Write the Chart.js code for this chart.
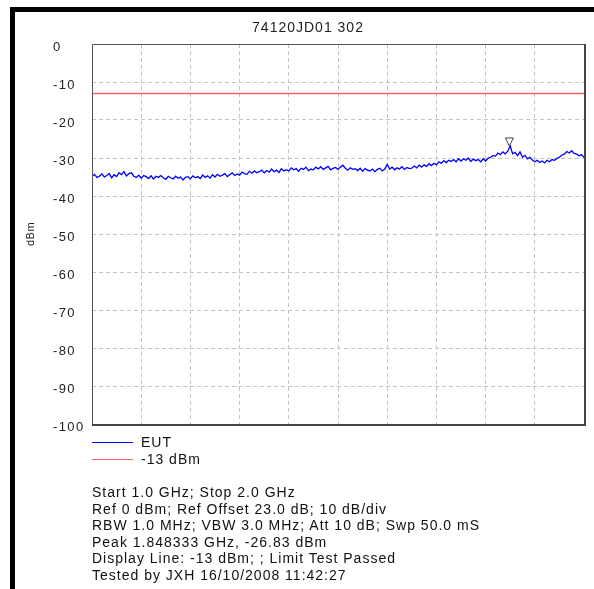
<!DOCTYPE html>
<html><head><meta charset="utf-8">
<script src="https://cdn.jsdelivr.net/npm/chart.js@4/dist/chart.umd.min.js"></script>
<style>
html,body{margin:0;padding:0;background:#fff;}
#wrap{position:relative;width:594px;height:589px;overflow:hidden;background:#fff;}
#frame{position:absolute;left:10px;top:7px;right:-10px;bottom:-10px;border-top:5px solid #000;border-left:5px solid #000;}
#cv{position:absolute;left:0;top:0;}
.txt{position:absolute;font-family:'Liberation Sans',Arial,sans-serif;font-size:14px;letter-spacing:1px;color:#111;white-space:nowrap;}
#legend{left:92px;top:434px;}
#legend .row{position:relative;height:17px;line-height:17px;padding-left:49px;}
#legend .sw{position:absolute;left:0;top:8px;width:41px;height:1px;}
#footer{left:92px;top:484px;line-height:16.6px;}
</style></head><body>
<div id="wrap"><div id="frame"></div><canvas id="cv" width="594" height="589"></canvas>
<div id="legend" class="txt"></div><div id="footer" class="txt"></div></div>
<script>
const chartTitle = '74120JD01 302';
const yAxisTitle = 'dBm';
const yTickValues = [0, -10, -20, -30, -40, -50, -60, -70, -80, -90, -100];
const xGridFreqs = [1.0, 1.1, 1.2, 1.3, 1.4, 1.5, 1.6, 1.7, 1.8, 1.9, 2.0];
const startGHz = 1.0;
const stepGHz = 0.005;
const seriesLabels = ['EUT', '-13 dBm'];
const eutLevels = [
 -34.9,-34.3,-35.1,-34.8,-34.2,-35.0,-34.6,-34.1,-35.2,-34.4,
 -34.9,-33.9,-34.4,-33.6,-34.7,-34.1,-33.9,-34.8,-35.1,-34.5,
 -35.3,-34.6,-34.9,-35.4,-34.7,-35.5,-34.8,-35.1,-34.6,-35.2,
 -35.6,-34.8,-35.2,-35.5,-34.8,-35.3,-35.0,-35.8,-35.1,-34.9,
 -35.5,-34.7,-35.2,-34.9,-35.4,-34.5,-35.1,-34.7,-35.3,-34.4,
 -35.0,-34.3,-34.8,-34.5,-34.1,-34.9,-34.4,-33.9,-34.6,-34.2,
 -34.5,-33.7,-34.1,-34.3,-33.5,-34.0,-33.4,-33.9,-33.6,-33.2,
 -33.9,-33.3,-33.7,-32.9,-33.6,-33.2,-33.8,-32.8,-33.4,-33.1,
 -33.4,-32.6,-33.1,-32.8,-33.5,-32.7,-33.0,-32.4,-33.3,-32.9,
 -33.1,-32.4,-32.9,-32.3,-33.0,-32.6,-32.2,-33.1,-32.7,-32.5,
 -33.0,-32.4,-31.9,-32.7,-33.2,-32.6,-33.0,-32.8,-33.3,-32.7,
 -33.5,-32.8,-33.2,-33.4,-32.9,-33.6,-33.0,-32.7,-33.4,-32.9,
 -31.7,-32.9,-32.4,-33.1,-32.6,-32.9,-32.3,-33.0,-32.5,-32.8,
 -32.7,-32.1,-32.6,-31.9,-32.4,-31.8,-32.2,-31.5,-32.0,-31.4,
 -31.8,-31.0,-31.4,-30.7,-31.2,-30.6,-30.9,-30.4,-31.0,-30.2,
 -30.8,-30.2,-30.6,-30.0,-30.9,-30.3,-30.7,-30.4,-31.0,-30.2,
 -30.8,-30.1,-29.8,-29.4,-29.5,-28.7,-29.1,-28.4,-28.9,-28.2,
 -26.8,-28.9,-28.5,-29.4,-28.4,-29.8,-29.3,-30.2,-29.8,-30.5,
 -31.0,-30.6,-31.2,-30.8,-31.3,-30.6,-31.0,-30.4,-30.6,-30.1,
 -29.8,-29.2,-29.0,-28.3,-28.7,-28.1,-28.8,-29.0,-29.4,-29.1,
 -29.9
];
const limitFreqs = [1.0, 2.0];
const limitLevels = [-13, -13];
const peakFreq = 1.848333;
const peakLevel = -26.83;
const footerLines = [
 'Start 1.0 GHz; Stop 2.0 GHz',
 'Ref 0 dBm; Ref Offset 23.0 dB; 10 dB/div',
 'RBW 1.0 MHz; VBW 3.0 MHz; Att 10 dB; Swp 50.0 mS',
 'Peak 1.848333 GHz, -26.83  dBm',
 'Display Line: -13 dBm; ; Limit Test Passed',
 'Tested by JXH 16/10/2008 11:42:27'
];

const FONT = "'Liberation Sans', Arial, sans-serif";
const colors = ['#0000ff', '#f06464'];

const decorPlugin = {
  id: 'decor',
  beforeDraw(chart) { chart.ctx.letterSpacing = '1.4px'; },
  afterDatasetsDraw(chart) {
    const {ctx, scales: {x, y}} = chart;
    const px = x.getPixelForValue(peakFreq), py = y.getPixelForValue(peakLevel);
    ctx.save();
    ctx.beginPath();
    ctx.moveTo(px, py);
    ctx.lineTo(px - 4, py - 8);
    ctx.lineTo(px + 4, py - 8);
    ctx.closePath();
    ctx.fillStyle = '#fff';
    ctx.fill();
    ctx.strokeStyle = '#444';
    ctx.lineWidth = 1;
    ctx.stroke();
    ctx.restore();
  },
  afterDraw(chart) {
    const {ctx, chartArea: a} = chart;
    ctx.save();
    ctx.letterSpacing = '0px';
    ctx.strokeStyle = '#555';
    ctx.lineWidth = 1;
    ctx.beginPath();
    ctx.moveTo(a.left + 0.5, a.bottom); ctx.lineTo(a.left + 0.5, a.top + 0.5); ctx.lineTo(a.right, a.top + 0.5);
    ctx.stroke();
    ctx.lineWidth = 2;
    ctx.strokeStyle = '#444';
    ctx.beginPath();
    ctx.moveTo(a.right + 1, a.top); ctx.lineTo(a.right + 1, a.bottom + 1); ctx.lineTo(a.left, a.bottom + 1);
    ctx.stroke();
    ctx.fillStyle = '#222';
    ctx.letterSpacing = '1px';
    ctx.font = '14px ' + FONT;
    ctx.textAlign = 'center';
    ctx.textBaseline = 'middle';
    ctx.fillText(chartTitle, 308, 28.5);
    ctx.letterSpacing = '0.5px';
    ctx.font = '11px ' + FONT;
    ctx.translate(31, (a.top + a.bottom) / 2);
    ctx.rotate(-Math.PI / 2);
    ctx.fillText(yAxisTitle, 0, 0);
    ctx.restore();
    ctx.letterSpacing = '0px';
  }
};

const gridCommon = {color: '#c4c4c4', lineWidth: 1, drawTicks: false};

new Chart(document.getElementById('cv'), {
  type: 'line',
  data: {
    datasets: [
      {label: seriesLabels[0], data: eutLevels.map((v, i) => ({x: +(startGHz + i * stepGHz).toFixed(6), y: v})),
       borderColor: colors[0], borderWidth: 1.3, pointRadius: 0, tension: 0},
      {label: seriesLabels[1], data: limitFreqs.map((f, i) => ({x: f, y: limitLevels[i]})),
       borderColor: colors[1], borderWidth: 1.5, pointRadius: 0}
    ]
  },
  options: {
    responsive: false,
    animation: false,
    layout: {padding: {left: 53, right: 10, top: 44, bottom: 165}},
    plugins: {legend: {display: false}, title: {display: false}, tooltip: {enabled: false}},
    scales: {
      x: {
        type: 'linear', min: 1.0, max: 2.0,
        afterBuildTicks: s => { s.ticks = xGridFreqs.map(v => ({value: v})); },
        ticks: {display: false},
        grid: gridCommon,
        border: {display: false, dash: [4, 3]},
        afterFit: s => { s.height = 0; }
      },
      y: {
        type: 'linear', min: -100, max: 0,
        afterBuildTicks: s => { s.ticks = yTickValues.map(v => ({value: v})); },
        ticks: {crossAlign: 'far', color: '#222', padding: 0, labelOffset: 3.5, font: {family: FONT, size: 13}},
        grid: gridCommon,
        border: {display: false, dash: [4, 3]},
        afterFit: s => { s.width = 39; }
      }
    }
  },
  plugins: [decorPlugin]
});

const legend = document.getElementById('legend');
seriesLabels.forEach((lab, i) => {
  const row = document.createElement('div');
  row.className = 'row';
  const sw = document.createElement('span');
  sw.className = 'sw';
  sw.style.background = colors[i];
  row.appendChild(sw);
  row.appendChild(document.createTextNode(lab));
  legend.appendChild(row);
});
const footer = document.getElementById('footer');
footerLines.forEach(line => {
  const d = document.createElement('div');
  d.textContent = line;
  footer.appendChild(d);
});
</script>
</body></html>
